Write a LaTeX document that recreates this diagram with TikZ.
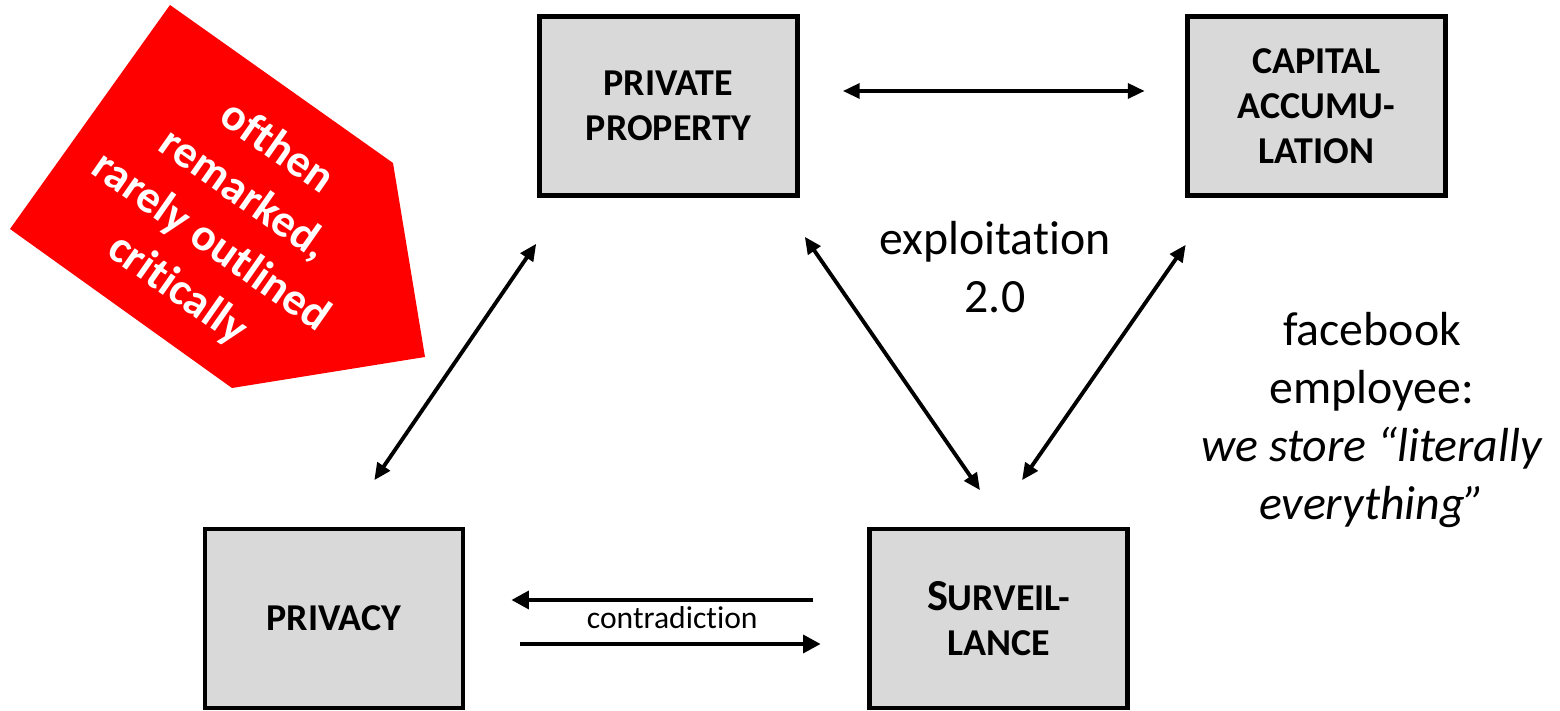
\documentclass[tikz,border=0pt]{standalone}
\usepackage{fontspec}
\setmainfont{Carlito}[Ligatures=NoCommon]
\usetikzlibrary{calc,arrows.meta}
\definecolor{boxgray}{RGB}{217,217,217}
\definecolor{flagred}{RGB}{255,0,0}
\tikzset{
	concept/.style={draw=black, line width=1.3pt, fill=boxgray, minimum width=2.58cm, minimum height=1.79cm, inner sep=0pt, align=center, font=\fontsize{10.8}{12.75}\selectfont\bfseries},
	link/.style={line width=1.1pt, {Triangle[length=4.8pt,width=4.2pt]}-{Triangle[length=4.8pt,width=4.2pt]}},
	oneway/.style={line width=1.4pt, -{Triangle[length=5pt,width=5pt]}},
	remark/.style={align=center, font=\fontsize{13.6}{16.5}\selectfont}
}
\begin{document}
\begin{tikzpicture}
				\useasboundingbox (0,0) rectangle (15.6,7.11);
				
				\fill[flagred] (1.70,7.06) -- (3.93,5.48) -- (4.25,3.54) -- (2.32,3.23) -- (0.10,4.82) -- cycle;
				\node[rotate=-35, align=center, text=white, font=\fontsize{13}{16.4}\selectfont\bfseries] (flag) at (2.27,4.92) {ofthen\\remarked,\\rarely outlined\\critically};
				
				\node[concept] (pp) at (6.685,6.05) {PRIVATE\\PROPERTY};
				\node[concept] (ca) at (13.165,6.05) {CAPITAL\\ACCUMU-\\LATION};
				\node[concept] (priv) at (3.34,0.925) {PRIVACY};
				\node[concept] (surv) at (9.985,0.925) {{\fontsize{12.6}{12.75}\selectfont S}URVEIL-\\LANCE};
				
				\draw[link] ($(pp.east)+(0.43,0.15)$) -- ($(ca.west)+(-0.405,0.15)$);
				\draw[link] ($(pp.south west)+(-0.01,-0.46)$) -- ($(priv.north east)+(-0.91,0.465)$);
				\draw[link] ($(pp.south east)+(0.05,-0.39)$) -- ($(surv.north)+(-0.185,0.365)$);
				\draw[link] ($(ca.south west)+(0.005,-0.47)$) -- ($(surv.north)+(0.235,0.465)$);
				
				\draw[oneway] ($(surv.west)+(-0.545,0.185)$) -- ($(priv.east)+(0.46,0.185)$);
				\draw[oneway] ($(priv.east)+(0.55,-0.255)$) -- ($(surv.west)+(-0.465,-0.255)$);
				\node[font=\fontsize{9}{10}\selectfont] (contra) at ($(priv.east)!0.5!(surv.west)+(0.06,0.005)$) {contradiction};
				
				\node[remark] (expl) at (9.95,4.44) {exploitation\\2.0};
				\node[remark] (fb) at (13.72,2.91) {facebook\\employee:\\\textit{we store “literally}\\\textit{everything”}};
\end{tikzpicture}
\end{document}
